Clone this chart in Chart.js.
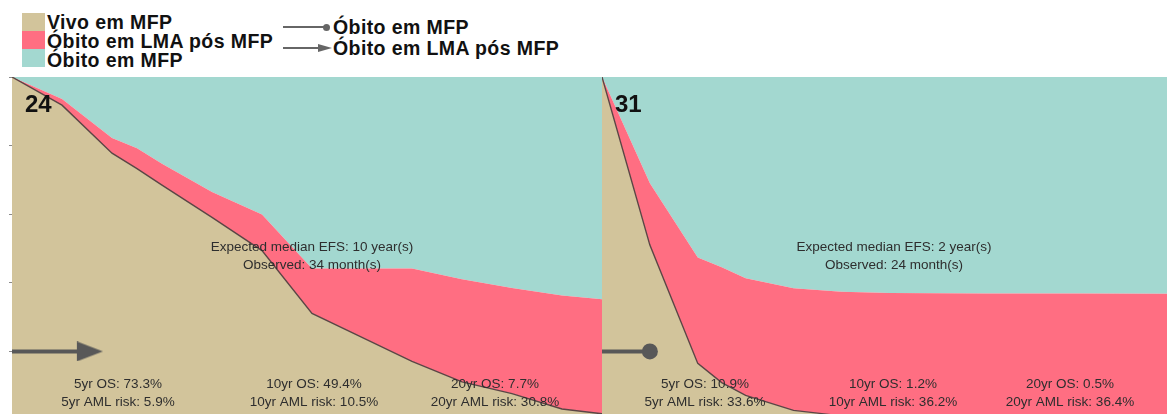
<!DOCTYPE html>
<html lang="pt">
<head>
<meta charset="utf-8">
<title>Evolução em MFP</title>
<script src="https://cdn.jsdelivr.net/npm/chart.js@4.4.1/dist/chart.umd.min.js"></script>
<style>
  html, body { margin: 0; padding: 0; background: #fff; }
  body { position: relative; width: 1167px; height: 414px; overflow: hidden;
         font-family: "Liberation Sans", Arial, sans-serif; }
  .sw  { position: absolute; width: 23px; height: 18px; }
  .lg  { position: absolute; font-weight: bold; font-size: 19.5px; line-height: 20px;
         letter-spacing: 0.4px; color: #111; white-space: nowrap; }
  .ln  { position: absolute; height: 2px; background: #666; }
  .dot { position: absolute; width: 7px; height: 7px; border-radius: 50%; background: #666; }
  .tri { position: absolute; width: 0; height: 0; border-left: 14px solid #666;
         border-top: 4px solid transparent; border-bottom: 4px solid transparent; }
  .panel { position: absolute; top: 77px; }
  .panel canvas { display: block; }
</style>
</head>
<body>
<div id="legend"></div>
<div class="panel" style="left:0px"><canvas id="leftChart" width="602" height="343"></canvas></div>
<div class="panel" style="left:602px"><canvas id="rightChart" width="565" height="343"></canvas></div>

<script>
// ---- data -------------------------------------------------------------
const areaNames   = ["Vivo em MFP", "Óbito em LMA pós MFP", "Óbito em MFP"];
const markerNames = ["Óbito em MFP", "Óbito em LMA pós MFP"];

const statYears = [5, 10, 20];

// patient 24
const leftId            = "24";
const leftYears         = [0, 2, 4, 6, 8, 12, 14, 16, 18, 22, 23.6];
const leftAlive         = [1, 0.918, 0.778, 0.685, 0.591, 0.311, 0.241, 0.171, 0.111, 0.032, 0.018];
const leftAmlDeath      = [0, 0.018, 0.044, 0.062, 0.074, 0.131, 0.201, 0.271, 0.299, 0.331, 0.334];
const leftOS            = [73.3, 49.4, 7.7];
const leftAmlRisk       = [5.9, 10.5, 30.8];
const leftExpectedEFS   = 10;   // years
const leftObservedMonths = 34;

// patient 31
const rightId            = "31";
const rightYears         = [0, 2, 4, 6, 8, 12, 16, 23.6];
const rightAlive         = [1, 0.51, 0.165, 0.072, 0.028, 0.008, 0.006, 0.004];
const rightAmlDeath      = [0, 0.18, 0.309, 0.341, 0.356, 0.362, 0.363, 0.364];
const rightOS            = [10.9, 1.2, 0.5];
const rightAmlRisk       = [33.6, 36.2, 36.4];
const rightExpectedEFS   = 2;
const rightObservedMonths = 24;

const maxYears = 23.6;

// ---- style ------------------------------------------------------------
const TAN = "#D2C49B", PINK = "#FF6E82", TEAL = "#A3D8D0";
const CURVE = "#5b4545", MARK = "#585858", TEXT = "#2e2e2e";
const NOTE_FONT = "13.5px 'Liberation Sans', Arial, sans-serif";
const ID_FONT = "bold 24px 'Liberation Sans', Arial, sans-serif";

// ---- legend -----------------------------------------------------------
(function buildLegend() {
  const box = document.getElementById("legend");
  const swatchColors = [TAN, PINK, TEAL];
  const swatchTops = [13, 31, 49];
  const labelCenters = [22, 41, 60];
  areaNames.forEach((name, i) => {
    const sw = document.createElement("div");
    sw.className = "sw";
    sw.style.cssText = `left:22px;top:${swatchTops[i]}px;background:${swatchColors[i]}`;
    box.appendChild(sw);
    const lb = document.createElement("div");
    lb.className = "lg";
    lb.style.cssText = `left:47px;top:${labelCenters[i] - 10}px`;
    lb.textContent = name;
    box.appendChild(lb);
  });
  const rowCenters = [27, 48];
  markerNames.forEach((name, i) => {
    const c = rowCenters[i];
    const ln = document.createElement("div");
    ln.className = "ln";
    ln.style.cssText = `left:283px;top:${c - 1}px;width:${i === 0 ? 43 : 36}px`;
    box.appendChild(ln);
    const end = document.createElement("div");
    if (i === 0) {
      end.className = "dot";
      end.style.cssText = `left:323px;top:${c - 3.5}px`;
    } else {
      end.className = "tri";
      end.style.cssText = `left:318px;top:${c - 4}px`;
    }
    box.appendChild(end);
    const lb = document.createElement("div");
    lb.className = "lg";
    lb.style.cssText = `left:333px;top:${c - 10}px`;
    lb.textContent = name;
    box.appendChild(lb);
  });
})();

// ---- helpers ----------------------------------------------------------
// merge the sampled curve with the reported 5/10/20-year values
function buildCurve(years, alive, aml, os, risk) {
  const pts = years.map((t, i) => ({ t, a: alive[i], m: aml[i] }));
  statYears.forEach((t, i) => pts.push({ t, a: os[i] / 100, m: risk[i] / 100 }));
  pts.sort((p, q) => p.t - q.t);
  return pts;
}

function arrowHeadImage() {
  const c = document.createElement("canvas");
  c.width = 40; c.height = 20;
  const g = c.getContext("2d");
  g.fillStyle = MARK;
  g.beginPath();
  g.moveTo(14, 0); g.lineTo(40, 10); g.lineTo(14, 20);
  g.closePath(); g.fill();
  return c;
}

const notesPlugin = {
  id: "notes",
  afterDatasetsDraw(chart, args, opts) {
    const { ctx, chartArea } = chart;
    ctx.save();
    (opts.items || []).forEach(it => {
      ctx.font = it.font;
      ctx.textAlign = it.align;
      ctx.textBaseline = it.baseline;
      ctx.fillStyle = it.color || TEXT;
      ctx.fillText(it.text, chartArea.left + it.dx, chartArea.top + it.dy);
    });
    ctx.restore();
  }
};

function makePanel(canvasId, cfg) {
  const pts = buildCurve(cfg.years, cfg.alive, cfg.aml, cfg.os, cfg.risk);
  const markerYear = cfg.observedMonths / 12;
  const isArrow = cfg.marker === "arrow";
  const head = arrowHeadImage();

  const items = [
    { text: cfg.id, font: ID_FONT, align: "left", baseline: "alphabetic", dx: 13, dy: 35, color: "#111" },
    { text: `Expected median EFS: ${cfg.expectedEFS} year(s)`, font: NOTE_FONT, align: "center",
      baseline: "middle", dx: cfg.efsX, dy: 170 },
    { text: `Observed: ${cfg.observedMonths} month(s)`, font: NOTE_FONT, align: "center",
      baseline: "middle", dx: cfg.efsX, dy: 188 }
  ];
  statYears.forEach((y, i) => {
    items.push({ text: `${y}yr OS: ${cfg.os[i].toFixed(1)}%`, font: NOTE_FONT, align: "center",
                 baseline: "middle", dx: cfg.statX[i], dy: 307 });
    items.push({ text: `${y}yr AML risk: ${cfg.risk[i].toFixed(1)}%`, font: NOTE_FONT, align: "center",
                 baseline: "middle", dx: cfg.statX[i], dy: 325 });
  });

  const yAxis = {
    min: 0, max: 1, display: cfg.showAxis,
    ticks: { display: false, stepSize: 0.2 },
    grid: { drawOnChartArea: false, drawTicks: true, tickLength: 3, color: "#8a8a8a" },
    border: { display: true, color: "#8a8a8a", width: 1 }
  };
  if (cfg.showAxis) {
    yAxis.afterFit = axis => { axis.width = 12; };
  }

  return new Chart(document.getElementById(canvasId), {
    type: "line",
    data: {
      datasets: [
        {
          label: isArrow ? markerNames[1] : markerNames[0],
          data: [{ x: 0, y: 0.2 }, { x: markerYear, y: 0.2 }],
          borderColor: MARK, borderWidth: 4, borderCapStyle: "butt",
          fill: false, tension: 0,
          pointRadius: [0, isArrow ? 10 : 8],
          pointStyle: isArrow ? (c => c.dataIndex === 1 ? head : "circle") : "circle",
          pointBackgroundColor: MARK, pointBorderWidth: 0
        },
        {
          label: areaNames[0],
          data: pts.map(p => ({ x: p.t, y: p.a })),
          borderColor: CURVE, borderWidth: 1.4, backgroundColor: TAN,
          fill: "origin", tension: 0, pointRadius: 0
        },
        {
          label: areaNames[1],
          data: pts.map(p => ({ x: p.t, y: p.a + p.m })),
          borderWidth: 0, borderColor: "rgba(0,0,0,0)", backgroundColor: PINK,
          fill: "-1", tension: 0, pointRadius: 0
        },
        {
          label: areaNames[2],
          data: pts.map(p => ({ x: p.t, y: 1 })),
          borderWidth: 0, borderColor: "rgba(0,0,0,0)", backgroundColor: TEAL,
          fill: "-1", tension: 0, pointRadius: 0
        }
      ]
    },
    options: {
      responsive: false,
      animation: false,
      devicePixelRatio: 1,
      events: [],
      layout: { padding: 0, autoPadding: false },
      plugins: { legend: { display: false }, tooltip: { enabled: false }, notes: { items } },
      scales: {
        x: { type: "linear", min: 0, max: maxYears, display: false },
        y: yAxis
      }
    },
    plugins: [notesPlugin]
  });
}

makePanel("leftChart", {
  id: leftId, years: leftYears, alive: leftAlive, aml: leftAmlDeath,
  os: leftOS, risk: leftAmlRisk, expectedEFS: leftExpectedEFS,
  observedMonths: leftObservedMonths, marker: "arrow", showAxis: true,
  efsX: 300, statX: [106, 302, 483]
});

makePanel("rightChart", {
  id: rightId, years: rightYears, alive: rightAlive, aml: rightAmlDeath,
  os: rightOS, risk: rightAmlRisk, expectedEFS: rightExpectedEFS,
  observedMonths: rightObservedMonths, marker: "dot", showAxis: false,
  efsX: 292, statX: [103, 291, 468]
});
</script>
</body>
</html>
